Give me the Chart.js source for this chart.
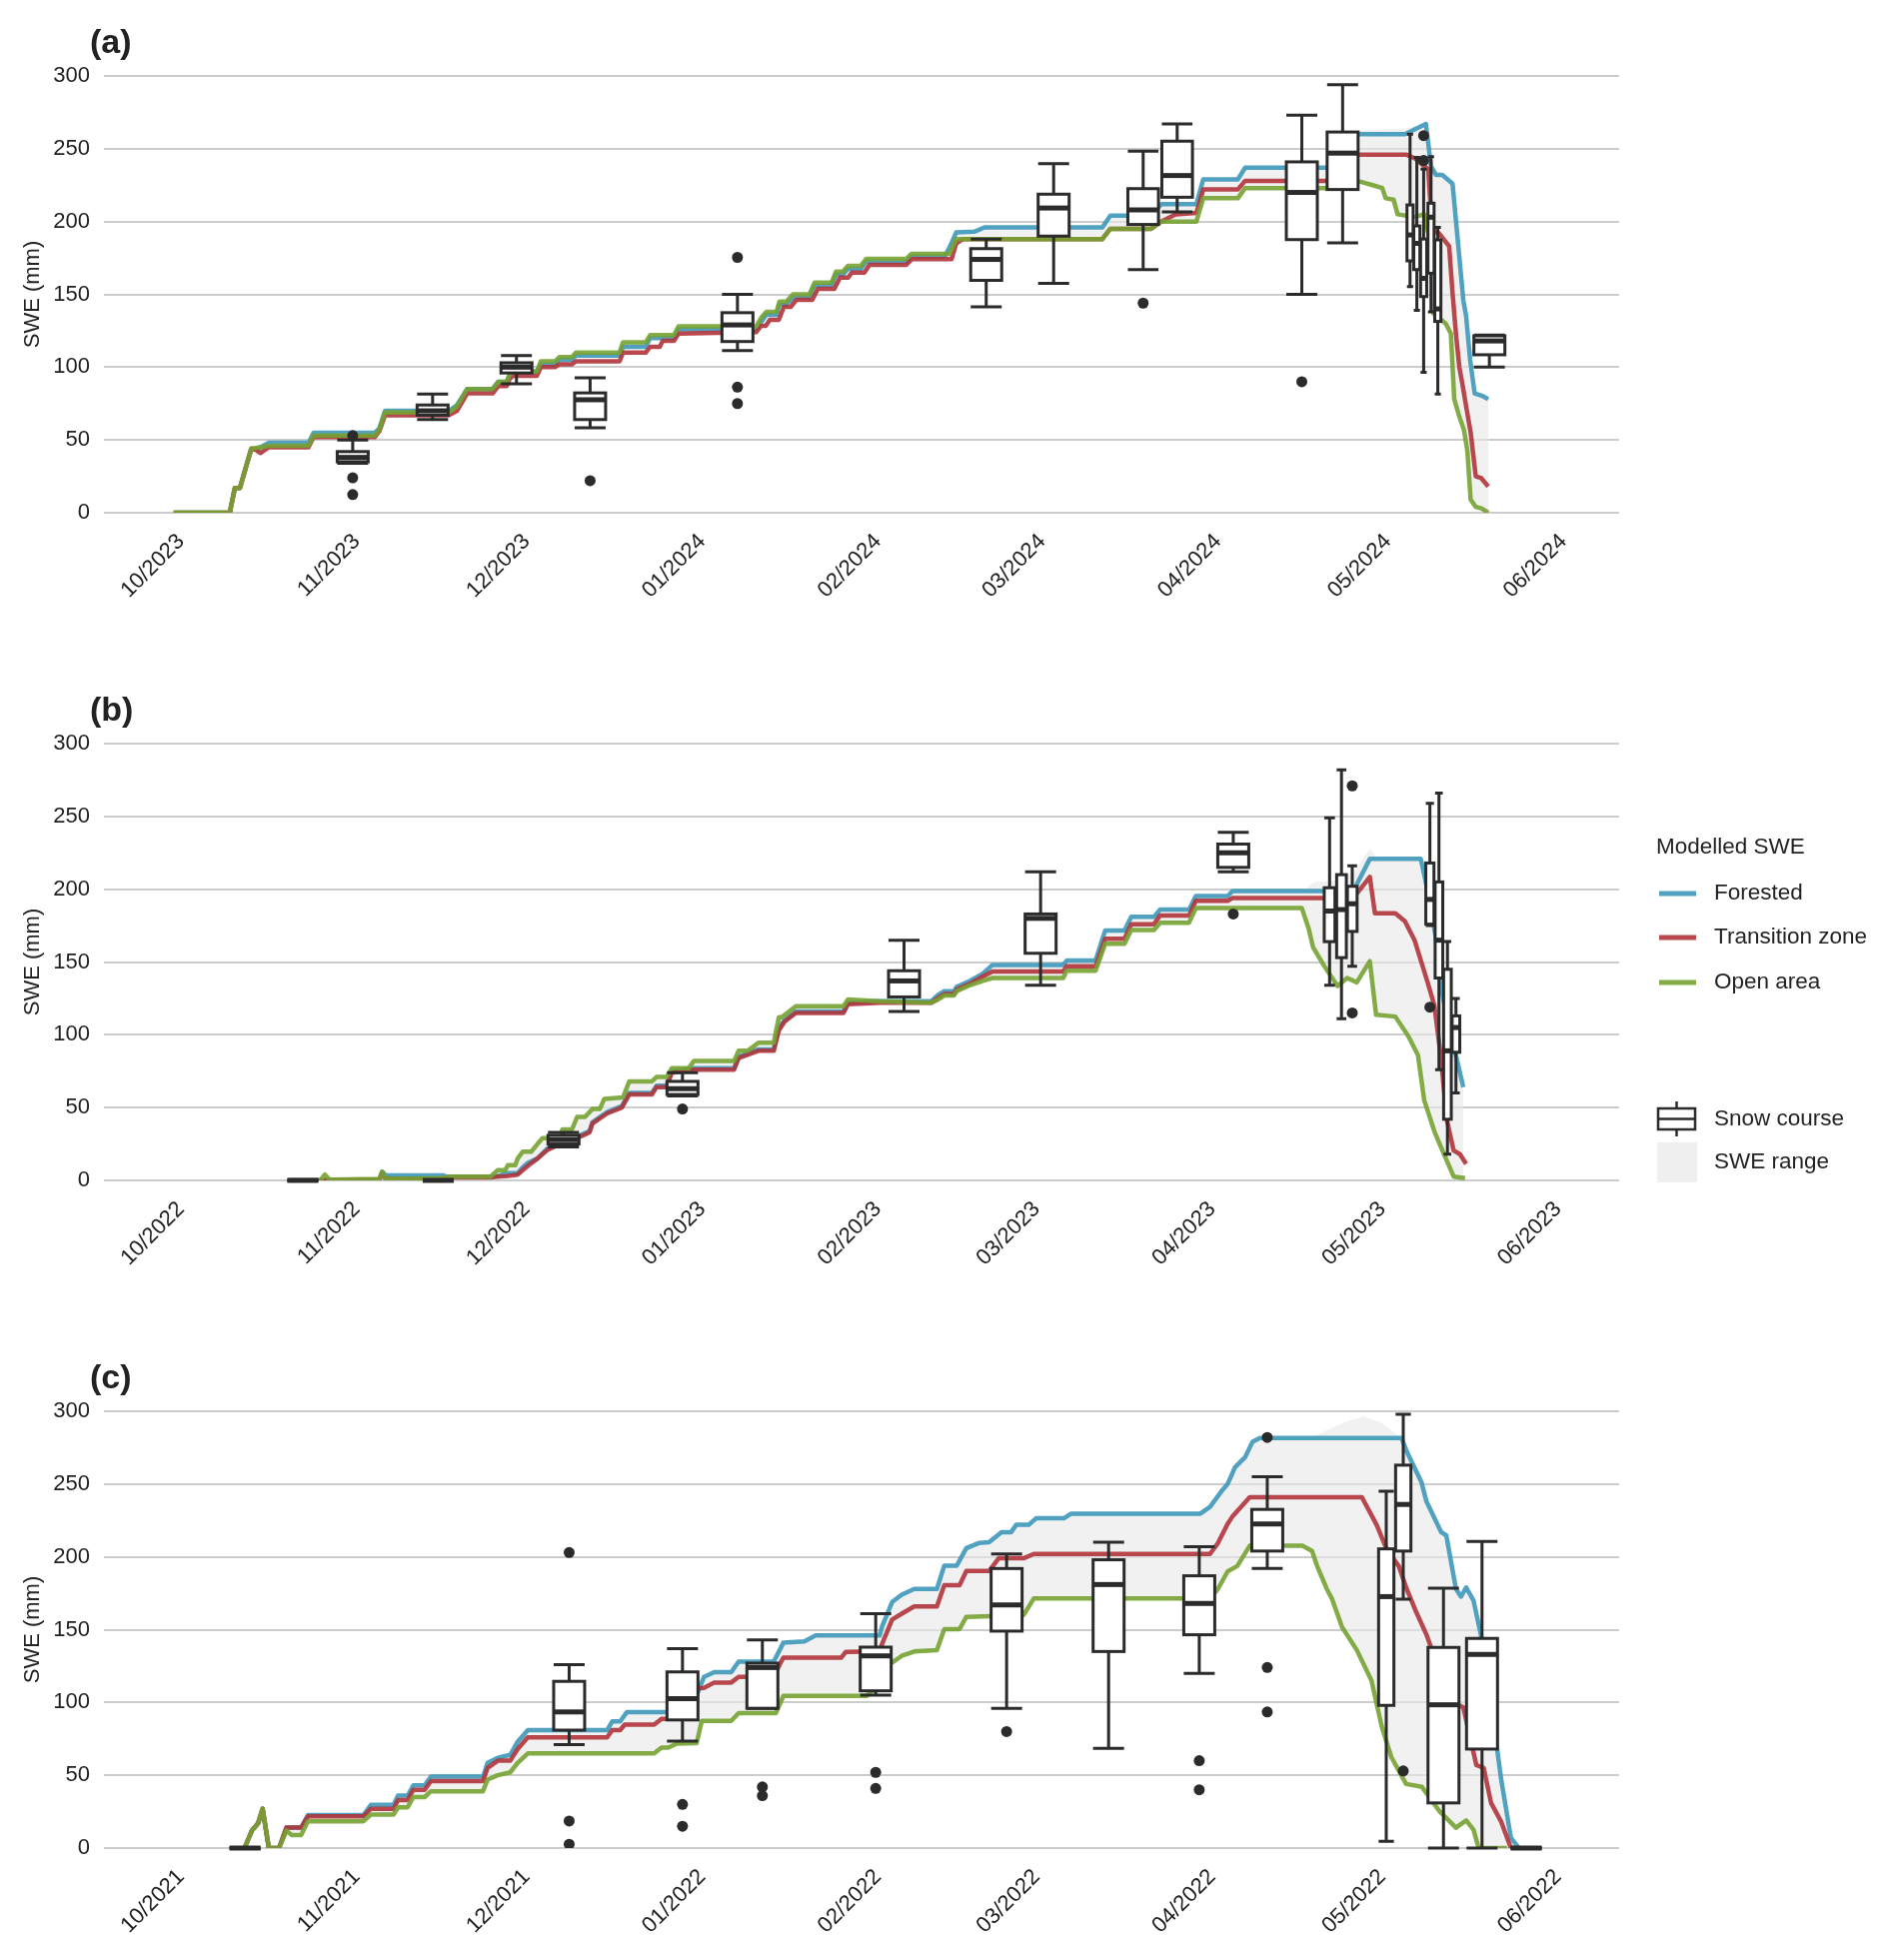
<!DOCTYPE html>
<html>
<head>
<meta charset="utf-8">
<script src="https://cdn.jsdelivr.net/npm/chart.js@4.4.1/dist/chart.umd.min.js"></script>
<style>
  html, body { margin: 0; padding: 0; background: #fff; overflow: hidden; }
  .panel { position: absolute; left: 0; width: 1892px; height: 625px; }
</style>
</head>
<body>
<div class="panel" style="top:0px"><canvas id="chartA"></canvas></div>
<div class="panel" style="top:668px"><canvas id="chartB"></canvas></div>
<div class="panel" style="top:1336px"><canvas id="chartC"></canvas></div>
<script>
// x values are days since 1 October of each season
var monthDaysA = [0, 31, 61, 92, 123, 152, 183, 213, 244];
var monthDaysBC = [0, 31, 61, 92, 123, 151, 182, 212, 243];
var monthLabelsA = ['10/2023', '11/2023', '12/2023', '01/2024', '02/2024', '03/2024', '04/2024', '05/2024', '06/2024'];
var monthLabelsB = ['10/2022', '11/2022', '12/2022', '01/2023', '02/2023', '03/2023', '04/2023', '05/2023', '06/2023'];
var monthLabelsC = ['10/2021', '11/2021', '12/2021', '01/2022', '02/2022', '03/2022', '04/2022', '05/2022', '06/2022'];

// ---- (a) 2023/24 ----
var forestedA = [[-1.3,0],[8.6,0],[9.5,17],[10.4,17],[12.4,44],[13.5,44],[15.5,48],[22.5,48],[23.4,55],[34.2,55],[35,58],[36,70],[47.3,70],[48.7,74],[50.5,85],[55,85],[56,90],[57.5,90],[58,95],[58.6,97],[62.8,97],[63.5,102],[66,102],[66.8,105],[69,105],[69.7,108],[77.4,108],[78,114],[82,114],[82.8,120],[87,120],[87.8,126],[101.5,126],[102.4,131],[103.3,136],[105.1,136],[105.6,143],[106.8,143],[108,148],[110.9,148],[111.8,156],[114.8,156],[115.6,163.5],[116.8,163.5],[117.7,167.5],[120,167.5],[120.9,172.5],[128,172.5],[128.9,176],[134.8,176],[135.6,182],[136.8,192.5],[140,193],[141.8,196],[162.6,196],[164,204],[171.2,204],[173,212],[179.2,212],[180.4,229],[186.5,229],[187.8,237],[202.5,237],[205.5,260],[216,260],[219.7,267],[220.6,238],[221.5,232],[222.6,232],[224.4,226],[226.3,146],[226.8,135],[227.5,105],[228.3,82],[229.8,80],[230.7,78]];
var transitionA = [[-1.3,0],[8.6,0],[9.5,17],[10.4,17],[12.4,44],[13.3,43],[14,41],[15.5,45],[22.5,45],[23.4,52],[34.2,52],[35,56],[36,67],[47.3,67],[48.7,70],[50.5,82],[55,82],[56,87],[57.5,87],[58,92],[58.6,94],[62.8,94],[63.5,100],[66,100],[66.8,102],[69,102],[69.7,104],[77.4,104],[78,110],[82,110],[82.8,114],[84.5,114],[85,118],[87,118],[87.8,123],[101.5,124],[102.4,128.4],[103.2,128.4],[103.9,132.5],[105.5,132.5],[106.4,141.4],[107.6,141.4],[108.6,146.2],[111.4,146.2],[112.4,153.8],[115.3,153.8],[116.3,161.5],[117.7,161.5],[118.4,165],[120.6,165],[121.5,170.3],[128,170.3],[129,174.2],[136,174.2],[136.8,185],[138,188],[162.6,188],[164,195],[171.2,195],[173,200],[175.5,205],[179.2,206],[180.4,222],[186.5,222],[187.8,228],[202.5,228],[205.5,246],[216.2,246],[217.7,243.5],[219.1,239],[220.1,236],[220.8,194],[222,192],[223.8,183],[224.4,151],[225,123],[225.6,100],[226.2,87],[226.8,73],[227.6,55],[228.5,25],[229.4,24],[230.7,18]];
var openA = [[-1.3,0],[8.6,0],[9.5,17],[10.4,17],[12.4,44],[15.5,46],[22.5,46],[23.4,53],[34.2,53],[35,57],[36,69],[47.3,69],[48.7,73],[50.5,85],[55,85],[56,90],[57.5,90],[58,95],[58.6,97],[62.8,97],[63.5,104],[66,104],[66.8,107],[69,107],[69.7,110],[77.4,110],[78,117],[82,117],[82.8,122],[87,122],[87.8,128],[101.5,128],[102.4,134],[103.3,138],[105.1,138],[105.6,145],[106.8,145],[108,150],[110.9,150],[111.8,158],[114.8,158],[115.6,165.7],[116.8,165.7],[117.7,169.6],[120,169.6],[120.9,174.4],[128,174.4],[128.9,177.8],[135.6,177.8],[136.8,188],[162.6,188],[164,195],[171.2,195],[173,200],[179.2,200],[180.4,216],[186.5,216],[187.8,223],[205.5,223],[207,228],[208.5,227],[210.3,225],[212,223],[212.6,216],[214,215],[214.7,205],[217.6,203],[219.4,205],[220.5,185],[221,137],[223.2,130],[224.1,123],[224.7,78],[225.6,66],[226.4,57],[227,43],[227.6,9],[228.5,4],[229.5,3],[230.7,0]];
var rangeTopA = [[202.5,237],[205.5,262],[216,264],[219.7,267]];
// snow course boxes: day, min, q1, median, q3, max
var boxesA = [[30.3,34,35,38,42,50],[44.4,64,67,70,74,81.5],[59.2,88.5,96,100,103,108],[72.2,58.4,64,77.6,82.3,92.6],[98.2,111.3,117.6,129,137.4,150],[142.1,141.5,159.6,174,181.4,188],[154,157.5,190,209.3,218.8,239.7],[169.8,167,198,208,222.6,248.4],[175.8,206.6,216.7,231.6,255.2,267],[197.8,150,187.6,220,241,273],[205,185.4,222,247,261.5,294],[216.9,155.4,173,190.8,211.4,260],[218.1,139,167,185,197,244],[219.3,96.4,148.5,161,188,236],[220.6,138,164.5,203,212.6,244.6],[221.8,81.6,131.4,140,187.4,196],[230.9,100,108.5,118,121.5,122]];
var outliersA = [[30.3,53],[30.3,24],[30.3,12.5],[72.2,22],[98.2,175.4],[98.2,86.3],[98.2,75],[169.8,144],[197.8,90],[219.3,259],[219.3,242]];

// ---- (b) 2022/23 ----
var forestedB = [[19,0],[25,0],[35,0.5],[35.5,6],[36.1,3.5],[46.2,3.5],[47,2.5],[54.6,2.5],[55.9,3],[57.7,5],[59.4,5],[60.3,9],[61.2,12],[62.9,15],[64.7,22],[66.4,25],[68.2,28],[69.9,30],[72.1,34],[72.6,40],[75.2,47],[77.8,51],[79.1,60],[83.1,60],[83.9,65],[85.7,65],[86.6,75],[90.5,77],[97.6,77],[98.4,85],[101.9,90],[104.6,90],[105.5,105],[106.5,110],[108.5,116],[116.9,116],[117.7,122],[123.3,123],[132.4,123],[133.5,127],[134.7,130],[136.4,130],[136.9,133],[139.2,137],[141.5,142],[143.2,148],[155.7,148],[156.3,151],[161.4,151],[163.1,171.7],[166.5,171.7],[167.7,181],[171.7,181],[172.8,186],[177.9,186],[179.1,195.3],[184.7,195.3],[185.6,198.8],[206.9,198.8],[209.8,220.8],[218.8,220.8],[220,199],[221.4,168],[222.5,130],[223.5,110],[225.1,84],[226.3,64]];
var transitionB = [[19,0],[25,0],[35,0.5],[35.5,5],[36.1,1],[46.2,1],[47,2],[54.6,2],[55.9,2.5],[57.7,3],[59.4,4],[60.3,7],[61.2,10],[62.9,15],[64.7,21],[66.4,24],[68.2,28],[69.9,29],[72.1,33],[72.6,39],[75.2,46],[77.8,50],[79.1,59],[83.1,59],[83.9,64],[85.7,64],[86.6,74],[90.5,76],[97.6,76],[98.4,84],[101.9,89],[104.6,89],[105.5,103],[106.5,109],[108.5,115],[116.9,115],[117.7,121],[123.3,122],[132.4,122],[133.5,125],[134.7,128],[136.4,128],[136.9,131],[139.2,135],[141.5,140],[143.2,143.5],[155.7,143.5],[156.3,147],[161.4,147],[163.1,166],[166.5,166],[167.7,176],[171.7,176],[172.8,182],[177.9,182],[179.1,192],[184.7,192],[185.6,194],[206.9,194],[209.8,208.5],[210.7,183.5],[214.3,183.5],[216,178],[217.7,165],[220,136],[221.2,120],[222.3,86],[223.4,41.5],[224.6,20.5],[225.7,18],[226.8,11.3]];
var openB = [[19,0],[24.6,0],[25.4,4],[26.2,0.5],[35,1],[35.5,6],[36.1,1],[46.2,1.5],[47,2.5],[54.6,2.5],[55.9,7],[57.2,7],[57.7,10.5],[59,10.5],[59.4,15],[60.3,19.7],[61.8,19.7],[62.9,25],[63.8,29],[66.9,29],[67.3,35],[69,35],[69.9,43.6],[71.3,43.6],[72.6,49],[73.9,49],[74.7,56],[78,57],[79.1,68],[83.1,68],[83.9,71],[85.7,71],[86.6,77],[89.6,77],[90.5,82],[97.6,82],[98.4,89],[100,89],[101.9,94.6],[104.6,94.6],[105.5,112],[106,112],[108.5,119.6],[116.9,119.6],[117.7,124.3],[123.3,123],[132.4,122],[133.5,124],[134.7,127],[136.4,127],[136.9,130],[139.2,134],[141.5,137],[143.2,139],[155.7,139],[156.3,144],[161.4,144],[163.1,162.5],[166.5,162.5],[167.7,172],[171.7,172],[172.8,177],[177.9,177],[179.1,187],[197.8,187],[199,173],[199.8,160],[201.8,147],[204.1,133.5],[205.8,139],[207.5,136],[209.8,150.6],[210.9,113.8],[214.3,112.5],[216.6,99],[218.3,86],[219.4,55],[221.2,33.6],[222.9,17.9],[224.6,2.6],[226.6,1.6]];
var rangeTopB = [[197.8,198.8],[200,205],[204,206],[207,212],[209.8,228],[211,222],[218.8,222],[220,205]];
var boxesB = [[21.5,0,0,0,0,0],[45.4,0,0,0,0,0],[67.5,23,25,28,31,33],[88.5,58,59,63,68,74],[127.6,116,126,137,144,165],[151.7,134,156,180,183,212],[185.7,212,215,225,231,239],[202.7,134,164,185,201,249],[204.8,111,153,186,210,282],[206.7,147,171,190,202,216],[220.4,175,176,193,218,259],[222,76,139,165,205,266],[223.5,18,42,89,145,164],[225,60,88,105,113,125]];
var outliersB = [[88.5,49],[185.7,183],[206.7,271],[206.7,115],[220.4,119]];

// ---- (c) 2021/22 ----
var forestedC = [[11.2,0],[12.5,12],[13.6,17],[14.4,27],[15.5,0],[17.3,0],[18.6,14],[21.2,14],[22.4,22.6],[32.2,22.6],[33.5,29.7],[37.5,29.7],[38.3,36],[40,36],[41,43],[43,43],[44.1,49],[53.3,49],[54.1,58.5],[55.9,62],[58.1,64],[59.4,73],[61.2,81],[75.2,81],[76.1,87],[77.5,87],[78.7,93.4],[85.7,93.4],[87.5,95],[91,105],[92.3,117.6],[94.1,120.8],[97.1,120.8],[98.4,128],[104.6,128],[106.3,141],[110,142],[112,146],[123.3,146],[123.7,152],[125.5,169],[127.2,174],[129.4,178],[133.4,178],[134.7,194],[136.9,194],[138.6,206],[140.8,209.5],[142.6,210],[144.8,217],[146.5,217],[147.4,222],[149.6,222],[150.9,226.5],[155.8,226.5],[157.1,229.7],[179.9,229.7],[181.6,234.4],[183.8,246],[184.7,250],[186,261.5],[187.8,268.5],[189.1,279],[190.4,281.7],[215.4,281.7],[216.3,272.5],[218.9,251.5],[219.8,238],[222.4,217],[223.3,214.7],[225,178],[225.9,172.7],[226.8,179],[228.1,170],[229.4,146.5],[231.2,99],[233,46.7],[234.7,7],[236.1,0]];
var transitionC = [[11.2,0],[12.5,12],[13.6,17],[14.4,27],[15.5,0],[17.3,0],[18.6,14],[21.2,14],[22.4,21.8],[32.2,21.8],[33.5,27],[37.5,27],[38.3,33],[40,33],[41,40],[43,40],[44.1,46],[53.3,46],[54.1,55],[55.9,60],[58.1,60],[59.4,68],[61.2,76],[75.2,76],[76.1,81],[77.5,81],[78.3,84.8],[83.5,84.8],[84.8,88.7],[90,88.7],[91,109.7],[92.3,110],[94.1,113.7],[97.1,113.7],[98.4,117.6],[104.6,117.6],[105.9,128],[106.3,130.7],[116.5,130.7],[117.3,134.7],[123.3,135],[123.7,140],[125.5,157],[127.2,161],[129.4,166],[133.4,166],[134.7,180.6],[137.4,180.6],[138.6,190.3],[142.6,190.3],[144.3,199],[148.7,199],[150.5,202],[181.6,202],[183,209.5],[184.7,222.6],[185.6,228],[188.6,241],[208.4,241],[211,222],[212.8,205],[214.9,193.7],[216.3,178],[218,162],[219.8,146.5],[221.5,128],[223.7,101.8],[226.3,96.6],[228.6,57],[229.9,55],[231.2,31],[233,17.9],[234.7,0],[236.1,0]];
var openC = [[11.2,0],[12.5,12],[13.6,17],[14.4,27],[15.5,0],[17.3,0],[18.6,12],[19.5,9],[21.2,9],[22.4,18.4],[32.2,18.4],[33.5,23],[37.5,23],[38.3,28],[40,28],[41,35],[43,35],[44.1,39],[53.3,39],[54.1,47],[55.9,50],[58.1,52],[59.4,58.5],[61.2,65],[83.5,65],[84.8,69],[86,69],[87.5,71.7],[91,72],[91.9,87.4],[97.1,87.4],[98.4,92.7],[105,92.7],[106.3,104.5],[121,104.5],[123.5,113],[125,126],[127.2,132],[129.4,135],[133.4,136],[134.7,150.4],[137.4,150.4],[138.6,158.8],[148.7,160],[150.5,171.4],[181.6,171.4],[183,178],[184.7,190],[186.4,193.7],[188.6,207.6],[197.9,207.6],[199.6,204],[200.5,193.7],[202.2,178],[203.1,171.4],[204.9,151.7],[207.5,136],[210.1,115],[211.9,83.5],[213.6,62.5],[216.2,44],[219,42],[222,25.7],[225,14],[226.8,19],[228.1,12.6],[229,0],[234,0]];
var rangeTopC = [[197.9,281.7],[199.6,282],[202.2,287],[205.7,293],[208.8,296.6],[211.9,292],[215.4,281.7]];
var boxesC = [[11.3,0,0,0,0,0],[68.5,71,81,93.5,114.5,126],[88.5,73.5,88,102.6,121,137],[102.6,96,96,124,127,143],[122.6,105,108,132,138,161],[145.7,96,149,167,192,202],[163.7,68.5,135,181,198,210],[179.7,120,146.5,168,187,207],[191.7,192,204,222.6,232.6,255],[212.7,4.7,98,172.7,205.5,245],[215.7,171,204,236,263,298],[222.8,0,31,98.4,137.8,178.5],[229.6,0,68,133,144,210.5],[237.4,0,0,0,0,0]];
var outliersC = [[68.5,203],[68.5,18.6],[68.5,2.6],[88.5,30],[88.5,15],[102.6,42],[102.6,36],[122.6,52],[122.6,41],[145.7,80],[179.7,60],[179.7,40],[191.7,282],[191.7,124],[191.7,93.5],[215.7,53]];

var seriesNames = ['Forested', 'Transition zone', 'Open area'];

var BLUE = 'rgba(62,152,186,0.9)';
var RED = 'rgba(176,52,58,0.9)';
var GREEN = 'rgba(118,162,50,0.9)';
var RANGE = 'rgba(232,232,232,0.6)';
var INK = '#2b2b2b';
var FONT = '"Liberation Sans", Arial, sans-serif';

Chart.defaults.font.family = FONT;
Chart.defaults.font.size = 22;
Chart.defaults.color = '#222222';

function pts(arr) {
  return arr.map(function (p) { return { x: p[0], y: p[1] }; });
}

// box-and-whisker snow courses, drawn right after the last line so outliers stay on top
var boxPlugin = {
  id: 'snowCourse',
  afterDatasetDraw: function (chart, args, opts) {
    if (args.index !== 3) return;
    var boxes = opts.boxes || [];
    var xs = chart.scales.x, ys = chart.scales.y, ctx = chart.ctx;
    ctx.save();
    ctx.strokeStyle = INK;
    boxes.forEach(function (b, i) {
      var cx = xs.getPixelForValue(b[0]);
      var gap = Infinity;
      if (i > 0) gap = Math.min(gap, cx - xs.getPixelForValue(boxes[i - 1][0]));
      if (i < boxes.length - 1) gap = Math.min(gap, xs.getPixelForValue(boxes[i + 1][0]) - cx);
      var w = Math.min(31, gap * 0.9);
      var pMin = ys.getPixelForValue(b[1]), pQ1 = ys.getPixelForValue(b[2]);
      var pMed = ys.getPixelForValue(b[3]), pQ3 = ys.getPixelForValue(b[4]);
      var pMax = ys.getPixelForValue(b[5]);
      ctx.lineWidth = 3;
      ctx.beginPath();
      ctx.moveTo(cx, pMax); ctx.lineTo(cx, pQ3);
      ctx.moveTo(cx, pQ1); ctx.lineTo(cx, pMin);
      ctx.moveTo(cx - w / 2, pMax); ctx.lineTo(cx + w / 2, pMax);
      ctx.moveTo(cx - w / 2, pMin); ctx.lineTo(cx + w / 2, pMin);
      ctx.stroke();
      ctx.fillStyle = '#ffffff';
      ctx.fillRect(cx - w / 2, pQ3, w, pQ1 - pQ3);
      ctx.strokeRect(cx - w / 2, pQ3, w, pQ1 - pQ3);
      ctx.lineWidth = 5;
      ctx.beginPath();
      ctx.moveTo(cx - w / 2, pMed); ctx.lineTo(cx + w / 2, pMed);
      ctx.stroke();
    });
    ctx.restore();
  }
};

var tagPlugin = {
  id: 'panelTag',
  afterDraw: function (chart, args, opts) {
    var ctx = chart.ctx;
    ctx.save();
    ctx.font = 'bold 34px ' + FONT;
    ctx.fillStyle = '#222';
    ctx.textBaseline = 'middle';
    ctx.textAlign = 'left';
    ctx.fillText(opts.text, 90, 44);
    ctx.restore();
  }
};

var legendPlugin = {
  id: 'sweLegend',
  afterDraw: function (chart, args, opts) {
    if (!opts.show) return;
    var ctx = chart.ctx;
    var colors = [BLUE, RED, GREEN];
    ctx.save();
    ctx.font = '22.5px ' + FONT;
    ctx.fillStyle = '#222222';
    ctx.textBaseline = 'middle';
    ctx.textAlign = 'left';
    ctx.fillText('Modelled SWE', 1657, 180);
    [226, 270, 315].forEach(function (ly, i) {
      ctx.strokeStyle = colors[i];
      ctx.lineWidth = 5;
      ctx.beginPath();
      ctx.moveTo(1660, ly); ctx.lineTo(1697, ly);
      ctx.stroke();
      ctx.fillStyle = '#222222';
      ctx.fillText(seriesNames[i], 1715, ly);
    });
    // snow course icon
    ctx.strokeStyle = INK;
    ctx.lineWidth = 2.5;
    ctx.beginPath();
    ctx.moveTo(1677.5, 434); ctx.lineTo(1677.5, 441);
    ctx.moveTo(1677.5, 462); ctx.lineTo(1677.5, 469);
    ctx.moveTo(1659, 451.5); ctx.lineTo(1696, 451.5);
    ctx.stroke();
    ctx.strokeRect(1659, 441, 37, 21);
    ctx.fillStyle = '#222222';
    ctx.fillText('Snow course', 1715, 452);
    ctx.fillStyle = '#efefef';
    ctx.fillRect(1658, 475, 40, 40);
    ctx.fillStyle = '#222222';
    ctx.fillText('SWE range', 1715, 495);
    ctx.restore();
  }
};

function buildPanel(id, tag, tickDays, tickLabels, forested, transition, open, rangeTop, boxes, outliers, showLegend) {
  return new Chart(document.getElementById(id), {
    type: 'line',
    data: {
      datasets: [
        {
          label: 'SWE range',
          data: pts(rangeTop),
          borderWidth: 0,
          pointRadius: 0,
          fill: { target: 1, above: RANGE, below: 'rgba(0,0,0,0)' },
          order: 10
        },
        {
          label: seriesNames[0],
          data: pts(forested),
          borderColor: BLUE,
          borderWidth: 4.5,
          pointRadius: 0,
          fill: { target: 3, above: RANGE, below: RANGE },
          order: 9
        },
        {
          label: seriesNames[1],
          data: pts(transition),
          borderColor: RED,
          borderWidth: 4.5,
          pointRadius: 0,
          fill: false,
          order: 8
        },
        {
          label: seriesNames[2],
          data: pts(open),
          borderColor: GREEN,
          borderWidth: 4.5,
          pointRadius: 0,
          fill: false,
          order: 7
        },
        {
          label: 'Snow course outliers',
          data: pts(outliers),
          showLine: false,
          pointRadius: 5.5,
          pointBackgroundColor: INK,
          pointBorderWidth: 0,
          order: 1
        }
      ]
    },
    options: {
      animation: false,
      responsive: true,
      maintainAspectRatio: false,
      layout: { padding: { left: 0, right: 272, top: 76, bottom: 0 } },
      elements: { line: { tension: 0, borderJoinStyle: 'round' } },
      plugins: {
        legend: { display: false },
        tooltip: { enabled: false },
        snowCourse: { boxes: boxes },
        panelTag: { text: tag },
        sweLegend: { show: showLegend }
      },
      scales: {
        x: {
          type: 'linear',
          min: -13.6,
          max: 253.8,
          grid: { display: false },
          border: { display: false },
          afterBuildTicks: function (axis) {
            axis.ticks = tickDays.map(function (d) { return { value: d }; });
          },
          afterFit: function (axis) { axis.height = 112; },
          ticks: {
            autoSkip: false,
            maxRotation: 45,
            minRotation: 45,
            padding: 8,
            callback: function (value, index) { return tickLabels[index]; }
          }
        },
        y: {
          min: 0,
          max: 300,
          grid: { color: '#cccccc', lineWidth: 2, drawTicks: false },
          border: { display: false },
          afterFit: function (axis) { axis.width = 104; },
          ticks: { stepSize: 50, padding: 14 },
          title: { display: true, text: 'SWE (mm)', padding: { top: 20, bottom: 0 } }
        }
      }
    },
    plugins: [boxPlugin, tagPlugin, legendPlugin]
  });
}

buildPanel('chartA', '(a)', monthDaysA, monthLabelsA, forestedA, transitionA, openA, rangeTopA, boxesA, outliersA, false);
buildPanel('chartB', '(b)', monthDaysBC, monthLabelsB, forestedB, transitionB, openB, rangeTopB, boxesB, outliersB, true);
buildPanel('chartC', '(c)', monthDaysBC, monthLabelsC, forestedC, transitionC, openC, rangeTopC, boxesC, outliersC, false);
</script>
</body>
</html>
